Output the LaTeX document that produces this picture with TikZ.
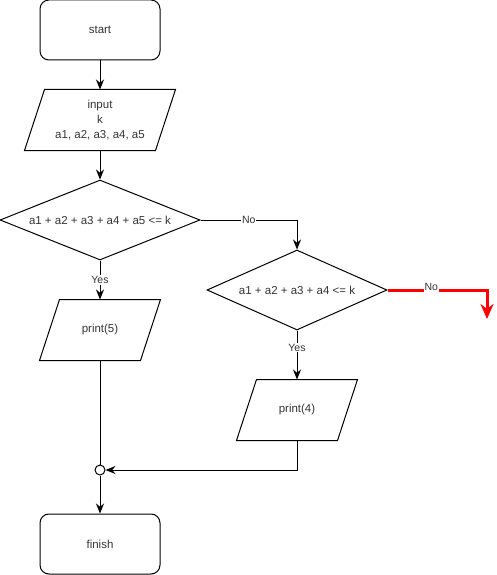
\documentclass[tikz,border=0pt]{standalone}
\usepackage{fontspec}
\setmainfont{Liberation Sans}
\usetikzlibrary{shapes.geometric,arrows.meta}
\begin{document}
\begin{tikzpicture}[x=1pt,y=-1pt,line width=1pt,font=\fontsize{11.5}{15}\selectfont]
    \tikzstyle{every node}+=[inner sep=0pt,text=black!80]
    \tikzstyle{term}=[draw,rounded corners=9pt,minimum width=120pt,minimum height=60pt]
    \tikzstyle{io}=[minimum height=60pt,align=center,
      append after command={\pgfextra{\draw ([xshift=-10pt]\tikzlastnode.south west) -- ([xshift=10pt]\tikzlastnode.north west)
        -- ([xshift=10pt]\tikzlastnode.north east) -- ([xshift=-10pt]\tikzlastnode.south east) -- cycle;}}]
    \tikzstyle{cond}=[draw,diamond,minimum height=80pt]
    \tikzstyle{lbl}=[fill=white,inner sep=1pt,font=\fontsize{10.5}{12}\selectfont]
    \tikzstyle{arr}=[-{Stealth[length=10pt,width=8pt]}]
    \useasboundingbox (0,0) rectangle (496,575);
    \node [term] (start) at (100,30) {start};
    \node [io,minimum width=130pt] (input) at (100,120) {input\\k\\a1, a2, a3, a4, a5};
    \node [cond,aspect=2.5,minimum width=200pt] (cond5) at (100,220) {a1 + a2 + a3 + a4 + a5 <= k};
    \node [cond,aspect=2.25,minimum width=180pt] (cond4) at (297,290) {a1 + a2 + a3 + a4 <= k};
    \node [io,minimum width=100pt] (print5) at (100,330) {print(5)};
    \node [io,minimum width=100pt] (print4) at (297,410) {print(4)};
    \node [draw,circle,fill=white,minimum size=10pt] (join) at (100,470) {};
    \node [term] (finish) at (100,544) {finish};
    \coordinate (out) at (487,319);
    \draw [arr] (start) -- (input);
    \draw [arr] (input) -- (cond5);
    \draw [arr] (cond5.east) -| node [lbl,pos=0.25] {No} (cond4.north);
    \draw [arr] (cond5) -- node [lbl] {Yes} (print5);
    \draw [arr] (cond4) -- node [lbl,pos=0.35] {Yes} (print4);
    \draw [red,line width=3pt,-{Stealth[length=15pt,width=13pt]}] (cond4.east) -| node [lbl,pos=0.22,yshift=3pt] {No} (out);
    \draw (print5) -- (join);
    \draw [arr] (print4.south) |- (join);
    \draw [arr] (join) -- (finish);
\end{tikzpicture}
\end{document}
